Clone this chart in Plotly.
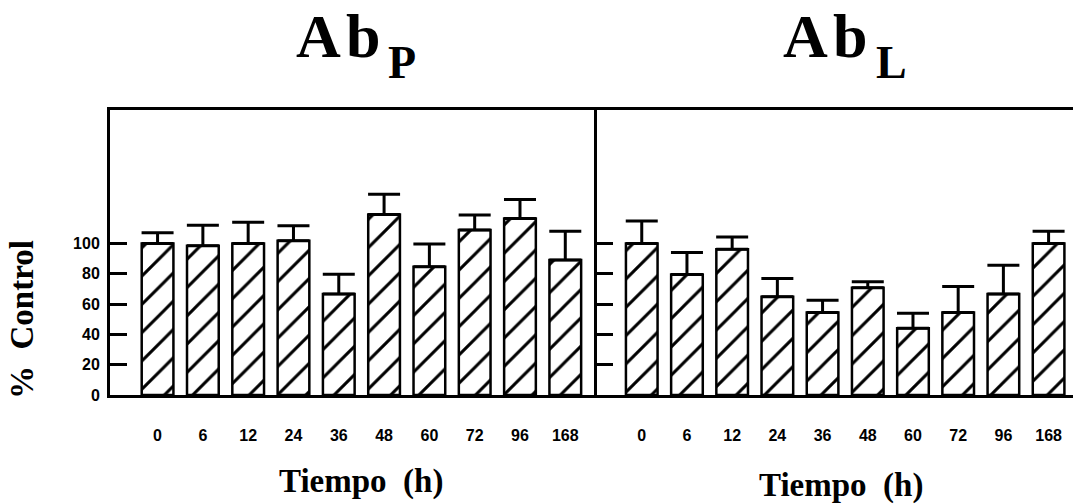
import plotly.graph_objects as go

# Sampling times (h) shared by both panels
tiempos = ["0", "6", "12", "24", "36", "48", "60", "72", "96", "168"]

# Ab_P: % of control and upper error (SEM)
abp_val = [100, 98.4, 100, 101.7, 66.6, 119, 84.6, 108.8, 116.5, 89]
abp_err = [7, 13.6, 14, 10, 13, 13.4, 15, 10, 12.5, 19]

# Ab_L: % of control and upper error (SEM)
abl_val = [100, 79.5, 96.2, 64.8, 54.5, 70.7, 44, 54.5, 66.6, 100]
abl_err = [14.7, 14.5, 8, 12, 8, 4, 10, 17, 19, 8]

y_ticks = [0, 20, 40, 60, 80, 100]

W, H = 1073, 504
L, R, T, B = 110, 0, 110, 109
PW, PH = W - L - R, H - T - B
SPLIT = (597 - L) / PW

serif = "Liberation Serif, Times New Roman, serif"
sans = "Liberation Sans, Arial, Helvetica, sans-serif"


def px(xp):
    return (xp - L) / PW


def py(yp):
    return (H - B - yp) / PH


def bar_trace(vals, errs, xa, ya):
    idx = list(range(len(vals)))
    return go.Bar(
        x=idx, y=vals, xaxis=xa, yaxis=ya, width=0.7,
        marker=dict(
            color="white",
            line=dict(color="black", width=2.5),
            pattern=dict(shape="/", fgcolor="black", bgcolor="white",
                         fgopacity=1, size=20, solidity=0.15,
                         fillmode="overlay"),
        ),
        error_y=dict(type="data", symmetric=False, array=errs,
                     arrayminus=[0] * len(errs), color="black",
                     thickness=3, width=16),
        showlegend=False, hoverinfo="skip",
    )


fig = go.Figure()
fig.add_trace(bar_trace(abp_val, abp_err, "x", "y"))
fig.add_trace(bar_trace(abl_val, abl_err, "x2", "y2"))

xcommon = dict(
    tickmode="array", tickvals=list(range(len(tiempos))), ticktext=tiempos,
    ticks="", showline=True, linecolor="black", linewidth=3, mirror=True,
    showgrid=False, zeroline=False, ticklabelstandoff=24,
    tickfont=dict(family=sans, size=16, color="black", weight="bold"),
)
fig.update_layout(
    xaxis=dict(domain=[0, SPLIT], range=[-1.05, 9.70], anchor="y", **xcommon),
    xaxis2=dict(domain=[SPLIT, 1], range=[-0.99, 9.54], anchor="y2", **xcommon),
    yaxis=dict(range=[0, 188], tickvals=y_ticks, ticks="inside", ticklen=17,
               tickwidth=3, tickcolor="black", showline=True, linecolor="black",
               linewidth=3, showgrid=False, zeroline=False, anchor="x",
               ticklabelstandoff=4,
               tickfont=dict(family=sans, size=16, color="black", weight="bold")),
    yaxis2=dict(range=[0, 188], tickvals=y_ticks, ticks="inside", ticklen=16,
                tickwidth=3, tickcolor="black", showline=True, linecolor="black",
                linewidth=2.5, showgrid=False, zeroline=False, anchor="x2",
                showticklabels=False),
    width=W, height=H,
    margin=dict(l=L, r=R, t=T, b=B, pad=0),
    plot_bgcolor="white", paper_bgcolor="white",
    bargap=0.3,
)

title_font = dict(family=serif, size=62, color="black", weight="bold")
sub_font = dict(family=serif, size=46, color="black", weight="bold")
annots = [
    # panel titles: "Ab" with its subscript letter set lower and smaller
    dict(text="A&#8202;b", x=px(294), y=py(36), xanchor="left", font=title_font),
    dict(text="P", x=px(386), y=py(63), xanchor="left", font=sub_font),
    dict(text="A&#8202;b", x=px(781), y=py(36), xanchor="left", font=title_font),
    dict(text="L", x=px(874), y=py(63), xanchor="left", font=sub_font),
    dict(text="<b>Tiempo  (h)</b>", xref="x", x=4.5, y=py(481),
         xanchor="center", font=dict(family=serif, size=33, color="black")),
    dict(text="<b>Tiempo  (h)</b>", xref="x2", x=4.4, y=py(485),
         xanchor="center", font=dict(family=serif, size=33, color="black")),
    dict(text="<b>%  Control</b>", x=px(22), y=py(320), xanchor="center",
         textangle=-90, font=dict(family=serif, size=33, color="black")),
]
for a in annots:
    a.setdefault("xref", "paper")
    a.update(showarrow=False, yref="paper", yanchor="middle")
fig.update_layout(annotations=annots)

fig.write_html("out.html")
